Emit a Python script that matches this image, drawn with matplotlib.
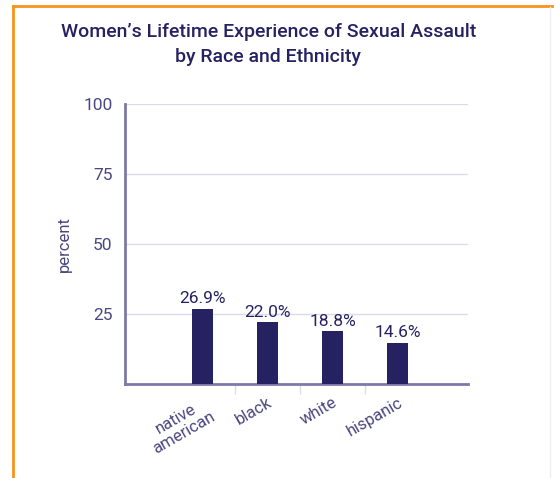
import matplotlib
matplotlib.use("Agg")
import matplotlib.pyplot as plt
from matplotlib.lines import Line2D

# dados do gráfico
categorias = ["native\namerican", "black", "white", "hispanic"]
valores = [26.9, 22.0, 18.8, 14.6]
rotulos = ["26.9%", "22.0%", "18.8%", "14.6%"]
yticks = [25, 50, 75, 100]

navy = "#262262"
spine = "#7d79aa"
grade = "#dcdbe9"
texto = "#4b4780"
laranja = "#f7941d"

plt.rcParams["font.family"] = ["Roboto", "DejaVu Sans"]

fig = plt.figure(figsize=(5.54, 4.78), dpi=100)
ax = fig.add_axes([0.2256, 0.1967, 0.619, 0.5858])

x = list(range(len(categorias)))
ax.bar(x, valores, width=0.32, color=navy, zorder=3)
for xi, v, r in zip(x, valores, rotulos):
    ax.annotate(r, (xi, v), xytext=(0, 2), textcoords="offset points",
                ha="center", va="bottom", fontsize=12.5, color=navy)

ax.set_xlim(-1.19, 4.08)
ax.set_ylim(0, 100)
ax.set_yticks(yticks)
ax.set_yticklabels([str(t) for t in yticks], fontsize=12.5, color=texto)
ax.tick_params(axis="y", length=0, pad=9)
ax.yaxis.grid(True, color=grade, linewidth=1, zorder=0)

ax.set_xticks(x)
ax.set_xticklabels(categorias, rotation=30, ha="right", va="top",
                   rotation_mode="anchor", fontsize=12, color=texto,
                   linespacing=1.1, multialignment="center")
ax.tick_params(axis="x", length=0, pad=8)
ax.set_xticks([0.5, 1.5, 2.5], minor=True)
ax.tick_params(axis="x", which="minor", length=7, color=grade, width=1)

for lado in ["top", "right"]:
    ax.spines[lado].set_visible(False)
for lado in ["left", "bottom"]:
    ax.spines[lado].set_color(spine)
    ax.spines[lado].set_linewidth(2)

ax.set_ylabel("percent", fontsize=12, color=texto, labelpad=8)

fig.text(0.484, 0.906, "Women\u2019s Lifetime Experience of Sexual Assault\nby Race and Ethnicity",
         ha="center", va="center", fontsize=14, fontweight="medium", color=navy,
         linespacing=1.5)

# moldura laranja
fig.add_artist(Line2D([13 / 554, 1], [1 - 6 / 478, 1 - 6 / 478], color=laranja, linewidth=2))
fig.add_artist(Line2D([13 / 554, 13 / 554], [0, 1 - 6 / 478], color=laranja, linewidth=2))
fig.add_artist(Line2D([550 / 554, 550 / 554], [0, 1 - 7 / 478], color="#eeeeee", linewidth=1))

fig.savefig("out.png", dpi=100)
